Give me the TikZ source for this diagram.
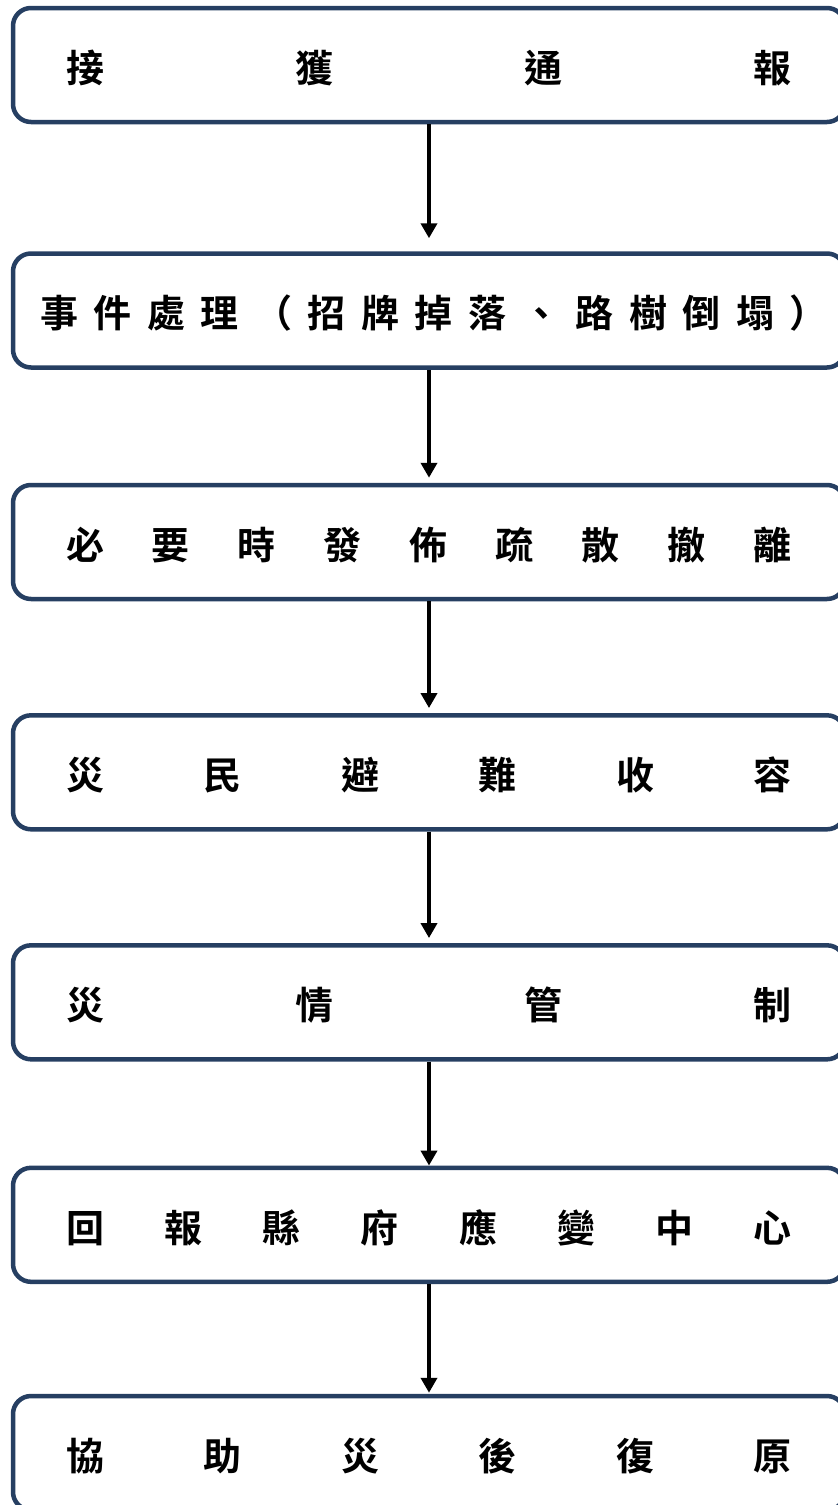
\documentclass[tikz,border=0pt]{standalone}
\usepackage{fontspec}
\newfontfamily\cjk{Noto Sans CJK TC Bold}
\usetikzlibrary{arrows.meta}
\definecolor{boxblue}{RGB}{38,63,98}
\begin{document}
\begin{tikzpicture}[x=1pt,y=-1pt,
  stepbox/.style={draw=boxblue, line width=4.5pt, rounded corners=18pt, fill=white,
    minimum width=832pt, minimum height=114pt, inner sep=0pt},
  label/.style={inner sep=0pt, font=\cjk\fontsize{38}{42}\selectfont},
  flow/.style={line width=4pt, draw=black, -{Triangle[width=16pt,length=15pt]}}]
\useasboundingbox (0,0) rectangle (838,1505);
\node[stepbox] (b1) at (429,65) {};
\node[stepbox] (b2) at (429,310.5) {};
\node[stepbox] (b3) at (429,542) {};
\node[stepbox] (b4) at (429,772.3) {};
\node[stepbox] (b5) at (429,1002.3) {};
\node[stepbox] (b6) at (429,1224.8) {};
\node[stepbox] (b7) at (429,1453) {};
\node[label] (t1) at (429,68) {\makebox[726pt]{接\hfill 獲\hfill 通\hfill 報}};
\node[label] (t2) at (434,313.5) {\makebox[788pt]{事\hfill 件\hfill 處\hfill 理\hfill （\hfill 招\hfill 牌\hfill 掉\hfill 落\hfill 、\hfill 路\hfill 樹\hfill 倒\hfill 塌\hfill ）}};
\node[label] (t3) at (429,545) {\makebox[726pt]{必\hfill 要\hfill 時\hfill 發\hfill 佈\hfill 疏\hfill 散\hfill 撤\hfill 離}};
\node[label] (t4) at (429,775.3) {\makebox[726pt]{災\hfill 民\hfill 避\hfill 難\hfill 收\hfill 容}};
\node[label] (t5) at (429,1005.3) {\makebox[726pt]{災\hfill 情\hfill 管\hfill 制}};
\node[label] (t6) at (429,1227.8) {\makebox[726pt]{回\hfill 報\hfill 縣\hfill 府\hfill 應\hfill 變\hfill 中\hfill 心}};
\node[label] (t7) at (429,1456) {\makebox[726pt]{協\hfill 助\hfill 災\hfill 後\hfill 復\hfill 原}};
\draw[flow, shorten >=13pt] (b1.south) -- (b2.north);
\draw[flow, shorten >=5pt] (b2.south) -- (b3.north);
\draw[flow, shorten >=5pt] (b3.south) -- (b4.north);
\draw[flow, shorten >=5pt] (b4.south) -- (b5.north);
\draw[flow, shorten >=0pt] (b5.south) -- (b6.north);
\draw[flow, shorten >=1pt] (b6.south) -- (b7.north);
\end{tikzpicture}
\end{document}
